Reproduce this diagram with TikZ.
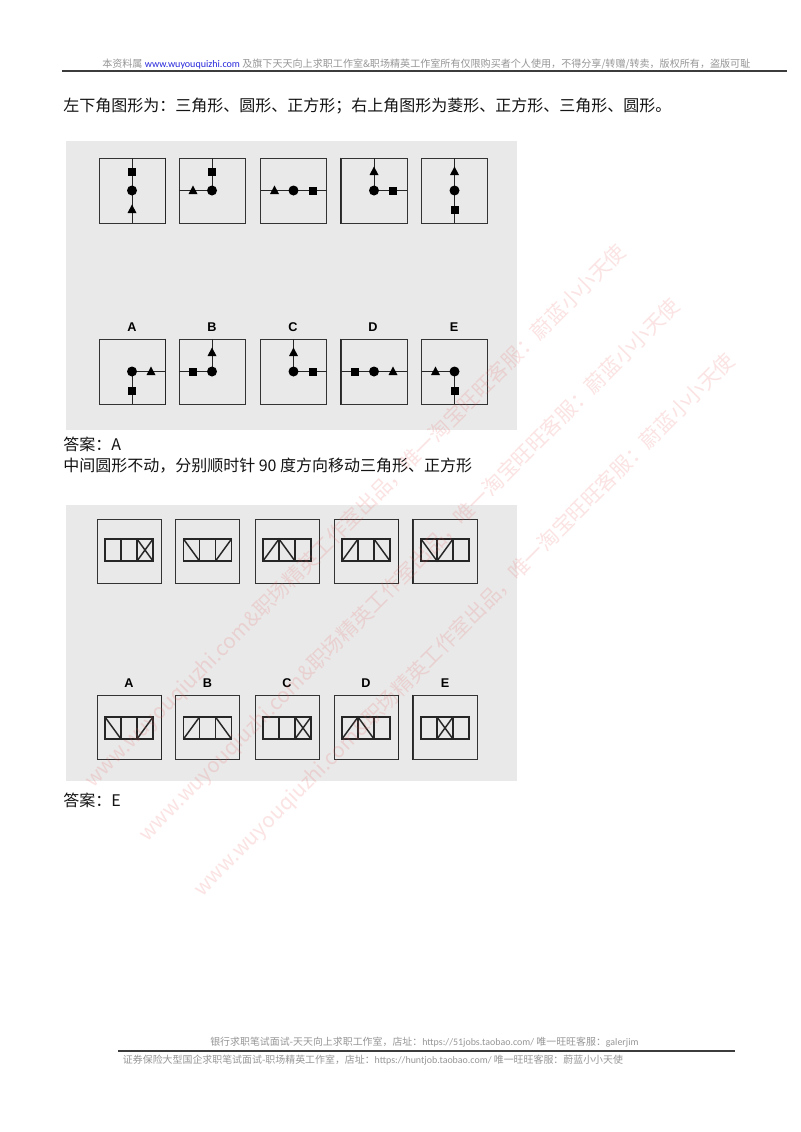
\documentclass[tikz,border=0pt]{standalone}
\usepackage{fontspec}
\newfontfamily\cjk{Noto Sans CJK SC}
\newfontfamily\lat{Carlito}
\newfontfamily\lab{Liberation Sans}
\definecolor{panelgray}{RGB}{233,233,233}
\definecolor{hdrgray}{RGB}{150,150,150}
\definecolor{linkblue}{RGB}{40,40,220}
\definecolor{rulegray}{RGB}{60,60,60}
\definecolor{wmred}{RGB}{235,90,90}
\tikzset{
  panel/.style={fill=panelgray, draw=none},
  sbox/.style={draw=black!80, line width=0.75pt, minimum width=49.5pt, minimum height=48.75pt, inner sep=0pt},
  tbox/.style={draw=black!80, line width=0.75pt, minimum width=48pt, minimum height=48pt, inner sep=0pt},
  axis/.style={draw=black!85, line width=0.7pt},
  sline/.style={draw=black!85, line width=0.8pt},
  dline/.style={draw=black!85, line width=1.1pt},
  heavy/.style={draw=black!85, line width=1.2pt},
  lbl/.style={font=\lab\bfseries\fontsize{9.5}{11}\selectfont, inner sep=0pt},
  body/.style={anchor=base west, inner sep=0pt, text=black!92, font=\cjk\fontsize{12}{14}\selectfont},
  hdr/.style={anchor=base west, inner sep=0pt, text=hdrgray, font=\cjk\fontsize{7.55}{9}\selectfont},
  ftr/.style={anchor=base west, inner sep=0pt, text=hdrgray, font=\cjk\fontsize{7.45}{9}\selectfont},
  wmark/.style={text=wmred, opacity=0.17, inner sep=0pt, font=\cjk\fontsize{15.5}{17}\selectfont},
}
% #1 name, #2 cx, #3 cy, #4 axis path, #5/#6 triangle offset, #7/#8 square offset
\newcommand\symfig[8]{%
  \node[sbox] (#1) at (#2,#3) {};
  \begin{scope}[shift={(#2,#3)}]
    \draw[axis] #4;
    \fill[black] (0,0) circle (3.75pt);
    \fill[black] ({#7-4},{#8-4}) rectangle ++(8,8);
    \fill[black] ({#5-4.5},{#6+3.5}) -- ++(9,0) -- ++(-4.5,-8.5) -- cycle;
  \end{scope}}
% #1 name, #2 cx, #3 cy, #4 diagonal path, #5 bottom line width, #6 strip y offset
\newcommand\stripfig[6]{%
  \node[tbox] (#1) at (#2,#3) {};
  \begin{scope}[shift={(#2,{#3+#6})}]
    \draw[sline] (-24,-11) rectangle (24,11);
    \draw[sline] (-8,-11) -- (-8,11) (8,-11) -- (8,11);
    \draw[sline, line width=#5] (-24,11) -- (24,11);
    \draw[dline] #4;
  \end{scope}}
\begin{document}
\begin{tikzpicture}[x=0.75pt,y=-0.75pt]
\useasboundingbox (0,0) rectangle (800,1132);
\fill[white] (0,0) rectangle (800,1132);

% header
\node[hdr] (hdr) at (102,67) {本资料属 {\lat\color{linkblue}\underline{www.wuyouquizhi.com\ }}及旗下天天向上求职工作室\&职场精英工作室所有仅限购买者个人使用，不得分享/转赠/转卖，版权所有，盗版可耻};
\coordinate (hl) at (62,71);
\coordinate (hr) at (787,71);
\draw[rulegray, line width=1.1pt] (hl) -- (hr);

% question text
\node[body] (t1) at (63,111) {左下角图形为：三角形、圆形、正方形；右上角图形为菱形、正方形、三角形、圆形。};

% panel 1
\fill[panel] (66,141) rectangle (517,430);
\symfig{q1}{132}{190.5}{(0,-32.5) -- (0,32.5)}{0}{19}{0}{-19}
\symfig{q2}{212}{190.5}{(0,-32.5) -- (0,0) -- (-33,0)}{-19}{0}{0}{-19}
\symfig{q3}{293.5}{190.5}{(-33,0) -- (33,0)}{-19}{0}{19}{0}
\symfig{q4}{374}{190.5}{(0,-32.5) -- (0,0) -- (33,0)}{0}{-19}{19}{0}
\symfig{q5}{454.5}{190.5}{(0,-32.5) -- (0,32.5)}{0}{-19}{0}{19}
\symfig{a1}{132}{371.5}{(33,0) -- (0,0) -- (0,32.5)}{19}{0}{0}{19}
\symfig{a2}{212}{371.5}{(0,-32.5) -- (0,0) -- (-33,0)}{0}{-19}{-19}{0}
\symfig{a3}{293.5}{371.5}{(0,-32.5) -- (0,0) -- (33,0)}{0}{-19}{19}{0}
\symfig{a4}{374}{371.5}{(-33,0) -- (33,0)}{19}{0}{-19}{0}
\symfig{a5}{454.5}{371.5}{(-33,0) -- (0,0) -- (0,32.5)}{-19}{0}{0}{19}
\draw[heavy] (q1.north east) -- (q1.south east);
\draw[heavy] (q4.north west) -- (q4.south west);
\draw[heavy] (a1.north east) -- (a1.south east);
\draw[heavy] (a4.north west) -- (a4.south west);
\node[lbl] (la1) at (132,327) {A};
\node[lbl] (la2) at (212,327) {B};
\node[lbl] (la3) at (293,327) {C};
\node[lbl] (la4) at (373,327) {D};
\node[lbl] (la5) at (454,327) {E};

\node[body] (ans1) at (63,450) {答案：A};
\node[body] (t2) at (63,471) {中间圆形不动，分别顺时针 90 度方向移动三角形、正方形};

% panel 2
\fill[panel] (66,505) rectangle (517,780.5);
\stripfig{r1}{129}{551}{(8,-11) -- (24,11) (8,11) -- (24,-11)}{1.6pt}{-1}
\stripfig{r2}{207.5}{551}{(-24,-11) -- (-8,11) (8,11) -- (24,-11)}{1.6pt}{-1}
\stripfig{r3}{287}{551}{(-24,11) -- (-8,-11) -- (8,11)}{1.6pt}{-1}
\stripfig{r4}{366}{551}{(-24,11) -- (-8,-11) (8,-11) -- (24,11)}{1.6pt}{-1}
\stripfig{r5}{445}{551}{(-24,-11) -- (-8,11) -- (8,-11)}{1.6pt}{-1}
\stripfig{b1}{129}{727}{(-24,-11) -- (-8,11) (8,11) -- (24,-11)}{0.8pt}{1}
\stripfig{b2}{207.5}{727}{(-24,11) -- (-8,-11) (8,-11) -- (24,11)}{0.8pt}{1}
\stripfig{b3}{287}{727}{(8,-11) -- (24,11) (8,11) -- (24,-11)}{0.8pt}{1}
\stripfig{b4}{366}{727}{(-24,11) -- (-8,-11) -- (8,11)}{0.8pt}{1}
\stripfig{b5}{445}{727}{(-8,-11) -- (8,11) (-8,11) -- (8,-11)}{0.8pt}{1}
\draw[heavy] (r4.north east) -- (r4.south east);
\draw[heavy] (r5.north west) -- (r5.south west);
\draw[heavy] (b1.north east) -- (b1.south east);
\draw[heavy] (b4.north east) -- (b4.south east);
\draw[heavy] (b5.north west) -- (b5.south west);
\node[lbl] (lb1) at (129,683) {A};
\node[lbl] (lb2) at (207.5,683) {B};
\node[lbl] (lb3) at (287,683) {C};
\node[lbl] (lb4) at (366,683) {D};
\node[lbl] (lb5) at (445,683) {E};

\node[body] (ans2) at (63,806) {答案：E};

% watermark
\node[wmark, rotate=45] (w1) at (355.75,516.25) {www.wuyouqiuzhi.com\&职场精英工作室出品，唯一淘宝旺旺客服：蔚蓝小小天使};
\node[wmark, rotate=45] (w2) at (409.75,570.25) {www.wuyouqiuzhi.com\&职场精英工作室出品，唯一淘宝旺旺客服：蔚蓝小小天使};
\node[wmark, rotate=45] (w3) at (464.75,625.25) {www.wuyouqiuzhi.com\&职场精英工作室出品，唯一淘宝旺旺客服：蔚蓝小小天使};

% footer
\node[ftr] (f1) at (210,1045) {银行求职笔试面试-天天向上求职工作室，店址：{\lat https://51jobs.taobao.com/} 唯一旺旺客服：{\lat galerjim}};
\coordinate (fl) at (118,1051);
\coordinate (fr) at (735,1051);
\draw[rulegray, line width=1.1pt] (fl) -- (fr);
\node[ftr] (f2) at (122.7,1063) {证券保险大型国企求职笔试面试-职场精英工作室，店址：{\lat https://huntjob.taobao.com/} 唯一旺旺客服：蔚蓝小小天使};
\end{tikzpicture}
\end{document}
